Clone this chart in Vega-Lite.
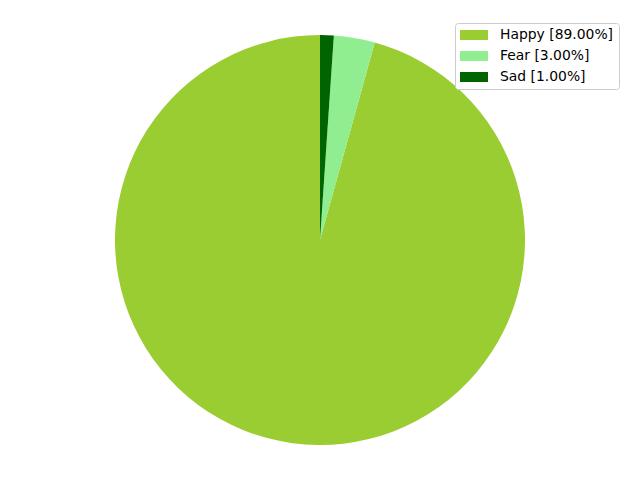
{
  "$schema": "https://vega.github.io/schema/vega-lite/v6.json",
  "width": 640,
  "height": 480,
  "autosize": {"type": "fit", "contains": "padding"},
  "padding": 0,
  "background": "white",
  "config": {"view": {"stroke": null}, "font": "DejaVu Sans"},
  "data": {
    "values": [
      {"emotion": "Happy", "label": "Happy [89.00%]", "value": 89, "ord": 3},
      {"emotion": "Fear", "label": "Fear [3.00%]", "value": 3, "ord": 2},
      {"emotion": "Sad", "label": "Sad [1.00%]", "value": 1, "ord": 1}
    ]
  },
  "mark": {"type": "arc", "outerRadius": 205, "stroke": null},
  "encoding": {
    "theta": {"field": "value", "type": "quantitative", "stack": true},
    "order": {"field": "ord", "type": "quantitative"},
    "color": {
      "field": "label",
      "type": "nominal",
      "scale": {
        "domain": ["Happy [89.00%]", "Fear [3.00%]", "Sad [1.00%]"],
        "range": ["#9ACD32", "#90EE90", "#006400"]
      },
      "legend": {
        "title": null,
        "orient": "none",
        "legendX": 455,
        "legendY": 23,
        "padding": 5,
        "fillColor": "white",
        "strokeColor": "#cccccc",
        "cornerRadius": 3,
        "symbolType": "M-1,-0.714L3,-0.714L3,0.714L-1,0.714Z",
        "symbolSize": 196,
        "symbolStrokeWidth": 0,
        "symbolOpacity": 1,
        "labelFont": "DejaVu Sans",
        "labelFontSize": 13.9,
        "labelColor": "#000000",
        "labelOffset": 26,
        "rowPadding": 7
      }
    }
  }
}
